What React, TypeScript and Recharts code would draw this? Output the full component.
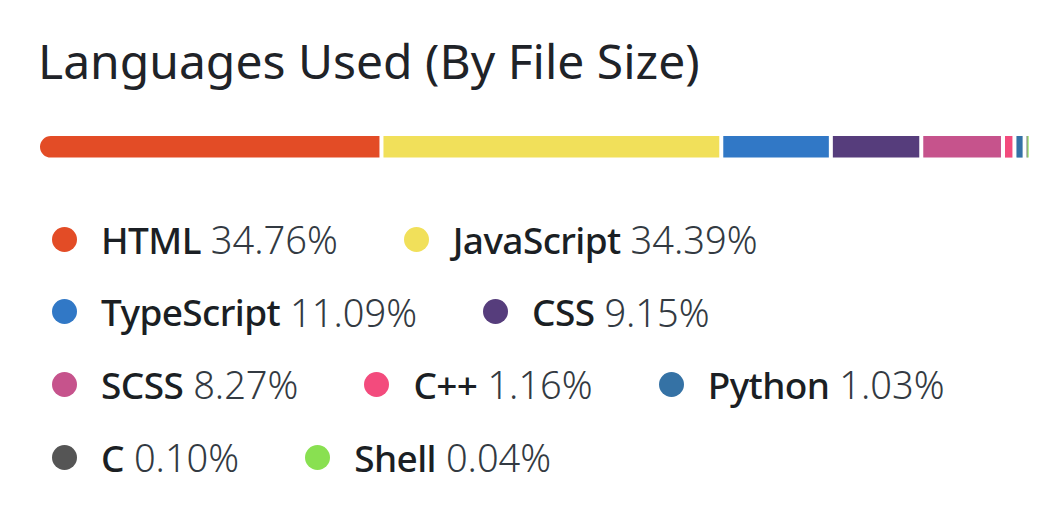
import React from "react";
import { BarChart, Bar, XAxis, YAxis, Legend, Rectangle } from "recharts";

const languages = ["HTML", "JavaScript", "TypeScript", "CSS", "SCSS", "C++", "Python", "C", "Shell"];
const percentages = [34.76, 34.39, 11.09, 9.15, 8.27, 1.16, 1.03, 0.1, 0.04];
const colors = ["#e34c26", "#f1e05a", "#3178c6", "#563d7c", "#c6538c", "#f34b7d", "#3572a5", "#555555", "#89e051"];
const legendRowSizes = [2, 2, 3, 2];
const title = "Languages Used (By File Size)";

const FONT = "'Noto Sans', 'Open Sans', sans-serif";

const chartRow: Record<string, number | string> = { name: "languages" };
languages.forEach((l, i) => {
  chartRow[l] = percentages[i];
});
const chartData = [chartRow];
const total = percentages.reduce((a, b) => a + b, 0);

const GAP = 4;

function Segment(props: any) {
  const { x, y, width, height, fill, first } = props;
  const w = Math.max(width - GAP, 1);
  return (
    <Rectangle
      x={x}
      y={y}
      width={w}
      height={height}
      fill={fill}
      radius={first ? [12, 0, 0, 12] : 0}
    />
  );
}

function LegendContent() {
  const rows: number[][] = [];
  let k = 0;
  legendRowSizes.forEach((n) => {
    const r: number[] = [];
    for (let j = 0; j < n; j++) r.push(k++);
    rows.push(r);
  });
  return (
    <div style={{ fontFamily: FONT, fontSize: 38 }}>
      {rows.map((r, ri) => (
        <div key={ri} style={{ display: "flex", alignItems: "center", height: 72.6, whiteSpace: "nowrap" }}>
          {r.map((i) => (
            <div key={i} style={{ display: "flex", alignItems: "center", marginRight: 66 }}>
              <span
                style={{
                  display: "inline-block",
                  width: 25,
                  height: 25,
                  borderRadius: "50%",
                  background: colors[i],
                  marginRight: 24,
                }}
              />
              <span style={{ fontWeight: 500, fontSize: 37, letterSpacing: -0.6, color: "#1b1f24" }}>
                {languages[i]}
              </span>
              <span style={{ fontWeight: 300, color: "#333a42", marginLeft: 10 }}>
                {percentages[i].toFixed(2)}%
              </span>
            </div>
          ))}
        </div>
      ))}
    </div>
  );
}

export default function App() {
  return (
    <div style={{ position: "relative", width: 1046, height: 513, background: "#fff" }}>
      <div
        style={{
          position: "absolute",
          top: 30,
          left: 30,
          fontFamily: FONT,
          fontSize: 48,
          lineHeight: "46px",
          fontWeight: 400,
          color: "#1f2328",
          whiteSpace: "nowrap",
        }}
      >
        {title}
      </div>
      <BarChart
        width={1046}
        height={513}
        data={chartData}
        layout="vertical"
        margin={{ top: 127, right: 26, bottom: 362, left: 32 }}
        barCategoryGap={0}
        barSize={24}
      >
        <XAxis type="number" domain={[0, total]} hide />
        <YAxis type="category" dataKey="name" hide />
        {languages.map((l, i) => (
          <Bar
            key={l}
            dataKey={l}
            stackId="a"
            fill={colors[i]}
            isAnimationActive={false}
            shape={(p: any) => <Segment {...p} first={i === 0} />}
          />
        ))}
        <Legend
          layout="horizontal"
          verticalAlign="middle"
          align="center"
          wrapperStyle={{ top: 195, left: 44, width: 1000, height: 291 }}
          content={() => <LegendContent />}
        />
      </BarChart>
    </div>
  );
}
